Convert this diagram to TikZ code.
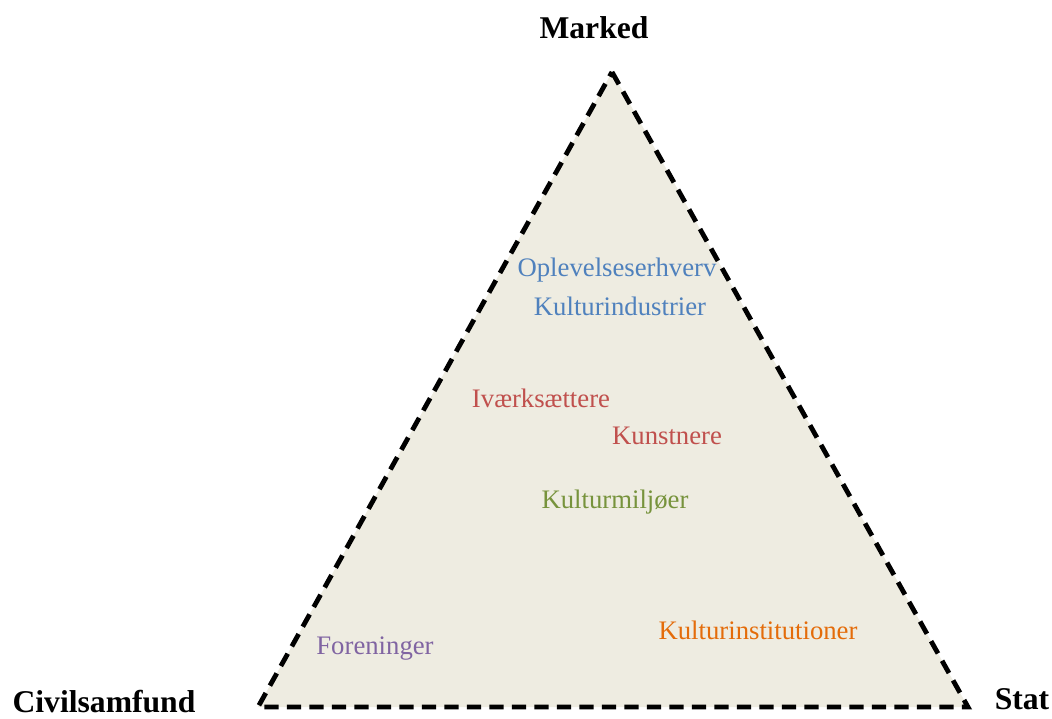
\documentclass[tikz,border=0pt]{standalone}
\usepackage{fontspec}
\setmainfont{Liberation Serif}
\definecolor{tanbg}{HTML}{EEECE1}
\definecolor{actorblue}{HTML}{4F81BD}
\definecolor{actorred}{HTML}{C0504D}
\definecolor{actorgreen}{HTML}{77933C}
\definecolor{actorpurple}{HTML}{8064A2}
\definecolor{actororange}{HTML}{E46C0A}
\tikzset{
  corner/.style={font=\fontsize{22.5}{26}\selectfont\bfseries},
  actor/.style={font=\fontsize{19}{22}\selectfont}
}

\begin{document}
\begin{tikzpicture}[x=0.025cm,y=-0.025cm]
        \useasboundingbox (0,0) rectangle (1052,718);
        \draw[fill=tanbg, line width=3.4pt, dash pattern=on 10pt off 6pt, line join=miter]
        (612,72) coordinate (top)
        -- (968,707) coordinate (right)
        -- (258,707) coordinate (left)
        -- cycle;
        \node[corner] (marked) at (594,28) {Marked};
        \node[corner] (civil) at (104,702) {Civilsamfund};
        \node[corner] (stat) at (1022,699) {Stat};
        \node[actor, actorblue] (oplev) at (617,270) {Oplevelseserhverv};
        \node[actor, actorblue] (kultind) at (620,306) {Kulturindustrier};
        \node[actor, actorred] (ivaerk) at (541,398) {Iværksættere};
        \node[actor, actorred] (kunst) at (667,436) {Kunstnere};
        \node[actor, actorgreen] (miljo) at (615,502) {Kulturmiljøer};
        \node[actor, actorpurple] (foren) at (375,649) {Foreninger};
        \node[actor, actororange] (inst) at (758,630) {Kulturinstitutioner};
    \end{tikzpicture}
\end{document}
